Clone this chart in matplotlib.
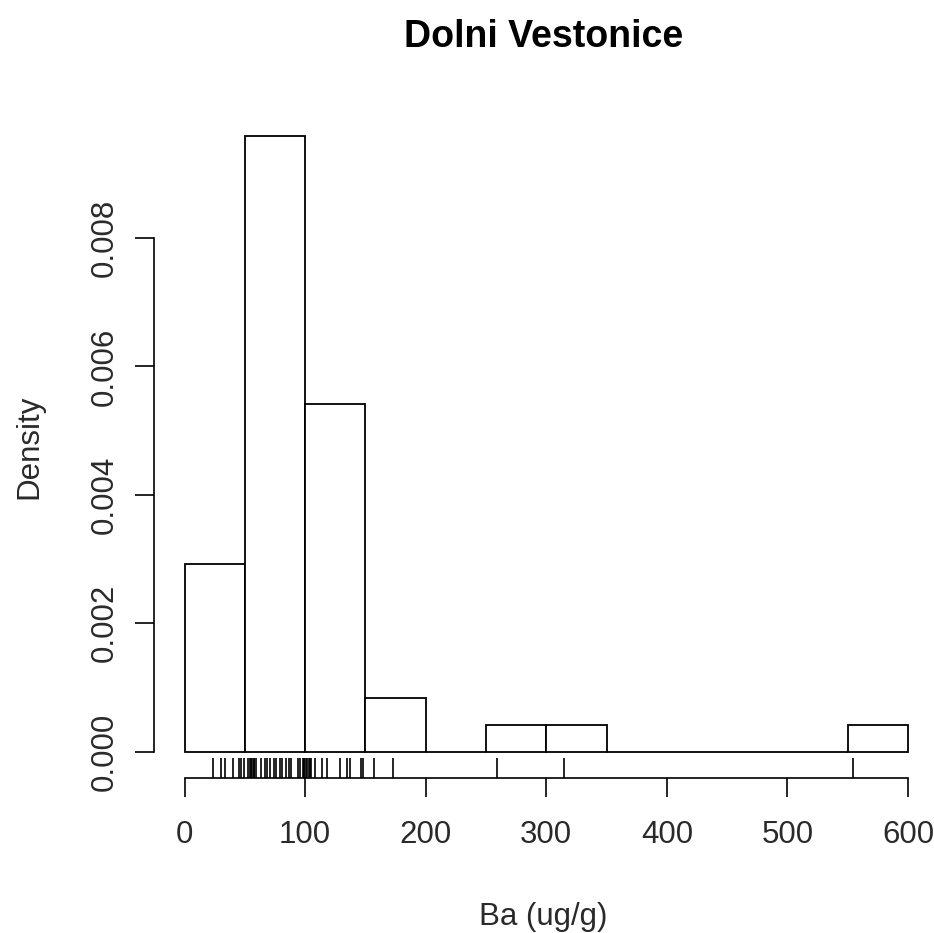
import numpy as np
import matplotlib.pyplot as plt
from matplotlib.transforms import blended_transform_factory

plt.rcParams['font.family'] = ['Liberation Sans', 'DejaVu Sans']

# Ba concentrations (ug/g) read from the rug
ba_values = [
    24, 30, 34, 40, 45, 47, 49,
    53, 54.5, 55, 56, 57.5, 58, 59, 63.6, 66.4, 68.3, 70.5, 73.9, 76.1,
    78.8, 81, 83.8, 86.6, 88.5, 94, 96, 98, 99, 99.5,
    101, 102, 103, 104, 105, 108, 114, 118, 129, 135, 137, 146, 148,
    157, 173,
    259, 314.5, 554,
]
bin_edges = list(range(0, 650, 50))
x_ticks = [0, 100, 200, 300, 400, 500, 600]
y_ticks = [0.000, 0.002, 0.004, 0.006, 0.008]

W, H = 934, 933
fig = plt.figure(figsize=(W / 100, H / 100), dpi=100)
left, right, top, bottom = 154.3, 934, 112, 778.3
ax = fig.add_axes([left / W, 1 - bottom / H, (right - left) / W, (bottom - top) / H])

ax.hist(ba_values, bins=bin_edges, density=True, facecolor='white',
        edgecolor='black', linewidth=1.3)

# rug along the bottom of the plot region
trans = blended_transform_factory(ax.transData, ax.transAxes)
ax.vlines(ba_values, 0, 0.03, transform=trans, color='black', linewidth=1.2)

xs = 723.5 / 600
ax.set_xlim(-(184.5 - left) / xs, (right - 184.5) / xs)
ys = 513.7 / 0.008
ax.set_ylim(-(bottom - 751.7) / ys, (751.7 - top) / ys)

for s in ['top', 'right']:
    ax.spines[s].set_visible(False)
ax.spines['left'].set_bounds(0, 0.008)
ax.spines['bottom'].set_bounds(0, 600)
for s in ['left', 'bottom']:
    ax.spines[s].set_linewidth(1.2)

ax.set_xticks(x_ticks)
ax.set_xticklabels([str(v) for v in x_ticks])
ax.set_yticks(y_ticks)
ax.set_yticklabels([f'{v:.3f}' for v in y_ticks], rotation=90, va='center')
ax.tick_params(axis='both', length=13.7, width=1.2, labelsize=22.5,
               labelcolor='#2a2a2a', pad=16)
ax.tick_params(axis='y', pad=11)

fig.text(543.7 / W, 1 - 46.7 / H, 'Dolni Vestonice', ha='center',
         va='baseline', fontsize=27, fontweight='bold')
fig.text(543.5 / W, 1 - 924.5 / H, 'Ba (ug/g)', ha='center',
         va='baseline', fontsize=22.5, color='#2a2a2a')
fig.text(37 / W, 1 - 447 / H, 'Density', ha='center', va='baseline',
         rotation=90, rotation_mode='anchor', fontsize=22.5, color='#2a2a2a')

fig.savefig('out.png', dpi=100, facecolor='white')
